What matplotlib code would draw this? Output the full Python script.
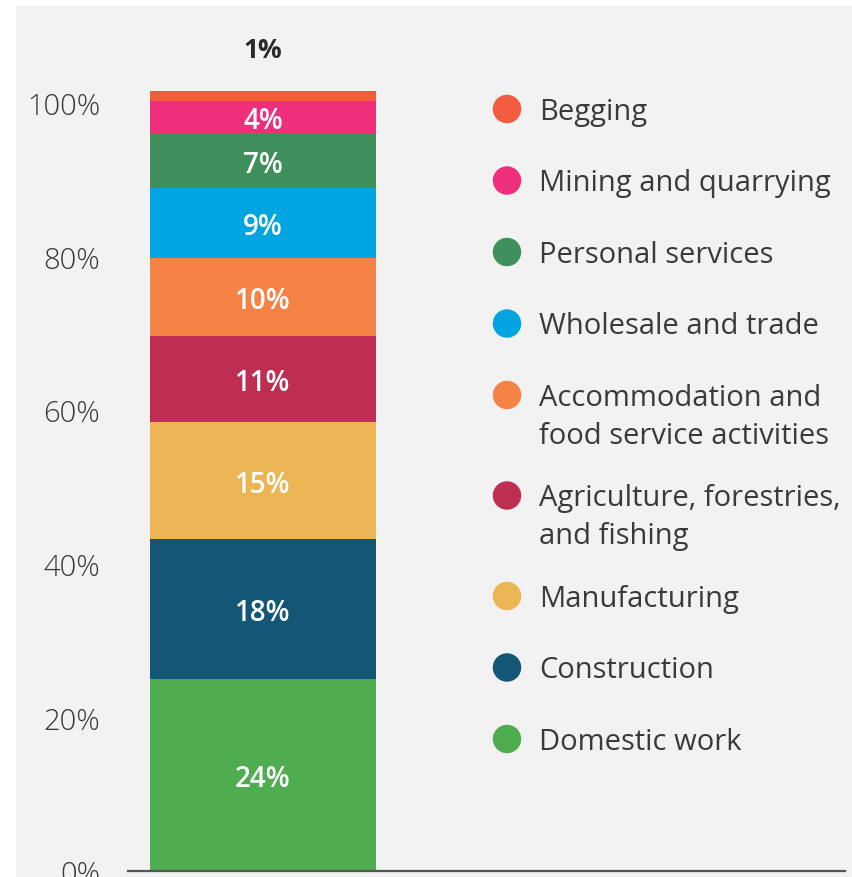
import matplotlib
matplotlib.use("Agg")
import matplotlib.pyplot as plt
from matplotlib.patches import Rectangle

# ---- data (bottom to top) ----
categories = ["Domestic work", "Construction", "Manufacturing",
              "Agriculture, forestries,\nand fishing",
              "Accommodation and\nfood service activities",
              "Wholesale and trade", "Personal services",
              "Mining and quarrying", "Begging"]
values = [25.0, 18.2, 15.2, 11.2, 10.2, 9.1, 7.2, 4.2, 1.2]
value_labels = ["24%", "18%", "15%", "11%", "10%", "9%", "7%", "4%", "1%"]
colors = ["#4fad50", "#135675", "#ebb553", "#be2e53", "#f58345",
          "#00a5df", "#3f8f5a", "#ef2f7b", "#f25c3f"]
yticks = [0, 20, 40, 60, 80, 100]
ytick_labels = ["0%", "20%", "40%", "60%", "80%", "100%"]

FONT = ["Open Sans", "DejaVu Sans"]
W, H = 853, 878
fig = plt.figure(figsize=(W / 100, H / 100), dpi=100, facecolor="white")

# background panel
bg = fig.add_axes([0, 0, 1, 1])
bg.set_xlim(0, W)
bg.set_ylim(H, 0)
bg.axis("off")
bg.add_patch(Rectangle((16, 7), W - 16, H - 7, facecolor="#f2f2f2", edgecolor="none"))

# main axes: y=0 at px 872, 1% = 7.68 px
y0_px, px_per = 872, 7.68
ymax = 110
ax_left, ax_right = 128, 845
ax = fig.add_axes([ax_left / W, (H - y0_px) / H, (ax_right - ax_left) / W, ymax * px_per / H])
ax.set_facecolor("none")
bar_w_px = 226
ax.set_xlim(-(150 - ax_left) / bar_w_px, (ax_right - 150) / bar_w_px)
ax.set_ylim(0, ymax)

bottom = 0
n = len(values)
for i, (v, c, lab) in enumerate(zip(values, colors, value_labels)):
    ax.bar(0.5, v, width=1.0, bottom=bottom, color=c, edgecolor="none", zorder=2)
    if i == n - 1:
        ax.text(0.5, 107.4, lab, ha="center", va="center_baseline", color="#2a2a2a",
                fontsize=19, fontweight="bold", family=FONT)
    else:
        ax.text(0.5, bottom + v / 2, lab, ha="center", va="center_baseline", color="white",
                fontsize=20, fontweight="semibold", family=FONT, zorder=3)
    bottom += v

for s in ["top", "right", "left"]:
    ax.spines[s].set_visible(False)
ax.spines["bottom"].set_color("#555555")
ax.spines["bottom"].set_linewidth(1.6)
ax.spines["bottom"].set_zorder(4)
ax.set_xticks([])
ax.set_yticks(yticks)
ax.set_yticklabels(ytick_labels, family=FONT, fontsize=21, color="#3a3a3a", fontweight="light")
ax.tick_params(axis="y", length=0, pad=20)

# legend (top to bottom), drawn in pixel coordinates on overlay
ov = fig.add_axes([0, 0, 1, 1])
ov.set_xlim(0, W)
ov.set_ylim(H, 0)
ov.axis("off")
y = 110
for cat, c in zip(categories[::-1], colors[::-1]):
    ov.scatter([507], [y], s=420, color=c, edgecolors="none")
    lines = cat.split("\n")
    for k, line in enumerate(lines):
        ov.text(539, y + 10 + k * 38, line, ha="left", va="baseline", color="#3a3a3a",
                fontsize=21, family=FONT)
    y += 71.5 + (len(lines) - 1) * 29

fig.savefig("out.png", dpi=100, facecolor="white")
